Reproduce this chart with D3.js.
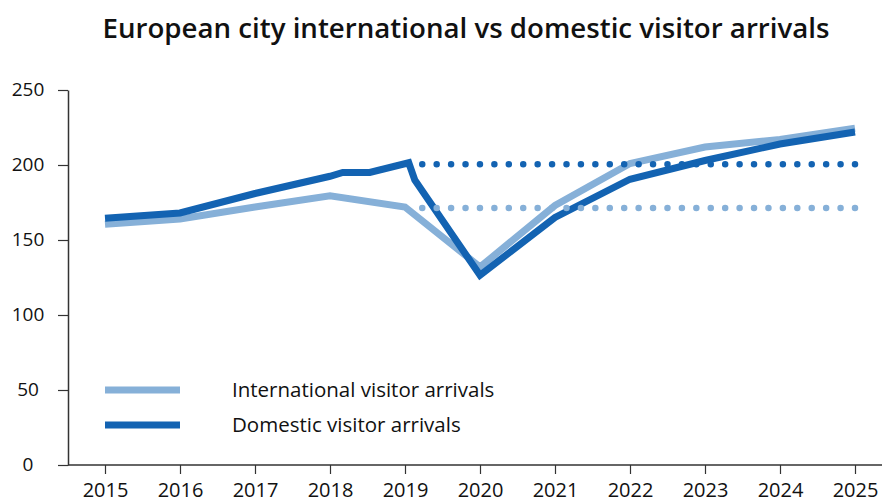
<!DOCTYPE html>
<html>
<head>
<meta charset="utf-8">
<script src="https://cdn.jsdelivr.net/npm/d3@7"></script>
<style>
  html, body { margin: 0; padding: 0; background: #fff; }
  svg { display: block; }
  text { font-family: "Open Sans", "Noto Sans", sans-serif; fill: #111; }
</style>
</head>
<body>
<svg id="chart" width="885" height="503"></svg>
<script>
// ---- data ----
const title = "European city international vs domestic visitor arrivals";
const xTicks = [2015, 2016, 2017, 2018, 2019, 2020, 2021, 2022, 2023, 2024, 2025];
const yTicks = [0, 50, 100, 150, 200, 250];

const internationalYears  = [2015, 2016, 2017, 2018, 2019, 2020, 2021, 2022, 2023, 2024, 2025];
const internationalValues = [160.5, 164, 172, 179.5, 172, 132, 173, 201, 212, 217, 224.5];

const domesticYears  = [2015, 2016, 2017, 2018, 2018.17, 2018.53, 2019.05, 2019.13, 2020, 2021, 2022, 2023, 2024, 2025];
const domesticValues = [164.5, 168, 181, 192.5, 195, 195, 201.5, 190, 126.5, 165, 190.5, 203, 214, 222];

// pre-pandemic reference levels (dotted)
const refYears = [2019.23, 2025];
const internationalRef = 171.3;
const domesticRef = 200.5;

const seriesNames = ["International visitor arrivals", "Domestic visitor arrivals"];
const colors = ["#86b0d8", "#1363b2"];

// ---- layout ----
const svg = d3.select("#chart");
const x = d3.scaleLinear().domain([2015, 2025]).range([105, 855]);
const y = d3.scaleLinear().domain([0, 250]).range([465, 90]);
const axisColor = "#333";

// title (fit to the reference width)
const t = svg.append("text")
  .attr("x", 466).attr("y", 38)
  .attr("text-anchor", "middle")
  .style("font-size", "25px").style("font-weight", 600)
  .text(title);
const tw = t.node().getComputedTextLength();
t.style("font-size", (25 * 727 / tw).toFixed(2) + "px");

// y axis
const yAxis = svg.append("g").attr("transform", "translate(68,0)")
  .call(d3.axisLeft(y).tickValues(yTicks).tickSize(10).tickSizeOuter(0).tickPadding(0));
yAxis.select(".domain").attr("stroke", axisColor).attr("stroke-width", 1.5);
yAxis.selectAll(".tick line").attr("stroke", axisColor).attr("stroke-width", 1.2);
yAxis.selectAll(".tick text")
  .attr("x", -40).attr("text-anchor", "middle").attr("dy", "0.3em")
  .style("font-size", "19px").style("font-family", "'Open Sans', sans-serif").attr("fill", "#111");

// x axis
const xAxis = svg.append("g").attr("transform", "translate(0,465)")
  .call(d3.axisBottom(x).tickValues(xTicks).tickFormat(d3.format("d")).tickSize(9).tickSizeOuter(0).tickPadding(0));
xAxis.select(".domain").attr("d", "M68,0H882").attr("stroke", axisColor).attr("stroke-width", 1.5);
xAxis.selectAll(".tick line").attr("stroke", axisColor).attr("stroke-width", 1.2);
xAxis.selectAll(".tick text")
  .attr("y", 32).attr("dy", 0)
  .style("font-size", "20px").style("font-family", "'Open Sans', sans-serif").attr("fill", "#111");

const line = d3.line().x(d => x(d[0])).y(d => y(d[1]));

// dotted reference lines
function dotted(val, color) {
  const pts = refYears.map(yr => [yr, val]);
  const len = x(refYears[1]) - x(refYears[0]);
  const gap = len / 30;
  svg.append("path").attr("d", line(pts))
    .attr("fill", "none").attr("stroke", color)
    .attr("stroke-width", 6.5).attr("stroke-linecap", "round")
    .attr("stroke-dasharray", `0 ${gap}`);
}

// lines
const intl = internationalYears.map((yr, i) => [yr, internationalValues[i]]);
const dom = domesticYears.map((yr, i) => [yr, domesticValues[i]]);

svg.append("path").attr("d", line(intl))
  .attr("fill", "none").attr("stroke", colors[0]).attr("stroke-width", 7)
  .attr("stroke-linejoin", "miter");
svg.append("path").attr("d", line(dom))
  .attr("fill", "none").attr("stroke", colors[1]).attr("stroke-width", 7)
  .attr("stroke-linejoin", "miter");

dotted(internationalRef, colors[0]);
dotted(domesticRef, colors[1]);

// legend
const legend = svg.append("g");
seriesNames.forEach((name, i) => {
  const ly = 390 + i * 35;
  legend.append("line").attr("x1", 105).attr("x2", 180).attr("y1", ly).attr("y2", ly)
    .attr("stroke", colors[i]).attr("stroke-width", 7);
  legend.append("text").attr("x", 232).attr("y", ly).attr("dy", "0.35em")
    .style("font-size", "20.5px").text(name);
});
</script>
</body>
</html>
